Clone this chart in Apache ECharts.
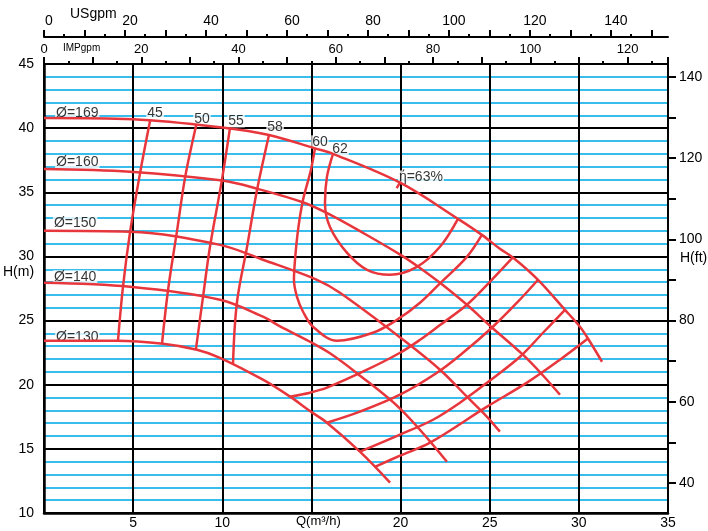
<!DOCTYPE html>
<html><head><meta charset="utf-8">
<script src="https://cdn.jsdelivr.net/npm/echarts@6/dist/echarts.min.js"></script>
<style>html,body{margin:0;padding:0;background:#fff}#c{width:708px;height:531px}</style>
</head><body><div id="c"></div>
<script>
// ---- data (Q in m3/h, H in m) ----
const dia169 = [[0,40.8],[5,40.69],[10,40.05],[12.62,39.47],[15.2,38.42],[16.21,38.0],[20,35.73],[23.22,32.93],[24.56,31.68],[25.57,30.6],[26.3,29.92],[27.71,28.18],[29.22,25.84],[30.06,24.52],[30.51,23.6],[31.3,21.79]];
const dia160 = [[0,36.82],[4.83,36.61],[10,35.91],[12,35.26],[14.55,34.2],[16.07,33.24],[18,31.75],[20,30.12],[21.09,29.1],[22.21,27.94],[23.72,26.23],[25.01,24.6],[26.86,22.34],[27.99,20.72],[28.94,19.22]];
const dia150 = [[0,32.0],[4.83,31.92],[9.87,30.9],[12.28,29.74],[15.31,28.18],[16.6,27.17],[20,23.66],[22.21,21.17],[23.72,19.07],[24.85,17.5],[25.57,16.34]];
const dia140 = [[0,27.94],[4.83,27.63],[9.87,26.62],[12.28,25.3],[13.24,24.55],[14.92,23.35],[16.04,22.45],[17.55,20.9],[20,18.1],[22.6,14.0]];
const dia130 = [[0,23.43],[4.1,23.43],[6.68,23.19],[8.58,22.73],[9.87,22.1],[12.28,20.39],[13.8,19.07],[14.92,17.95],[15.87,17.04],[17.72,14.78],[19.41,12.37]];

const eff45L = [[5.95,40.57],[5.39,36.51],[4.83,31.92],[4.43,27.63],[4.15,23.43]];
const eff50L = [[8.54,40.24],[7.92,36.2],[7.47,32.07],[6.96,27.4],[6.62,23.2]];
const eff55L = [[10.43,40.0],[9.98,35.97],[9.31,30.75],[8.92,26.85],[8.52,22.75]];
const eff58L = [[12.62,39.47],[11.95,35.19],[11.39,30.75],[10.82,26.39],[10.6,21.6]];
const eff60  = [[15.2,38.42],[14.97,36.74],[14.53,34.41],[14.25,32.07],[14.08,29.74],[14.02,28.18],[14.19,26.85],[14.53,25.69],[15.09,24.52],[16.43,23.43],[18.45,24.05],[19.8,25.06],[21.09,26.39],[22.21,27.9],[23.72,29.97],[24.56,31.68]];
const eff62  = [[16.21,38.0],[15.87,36.2],[15.76,34.17],[16.04,32.3],[17.0,30.28],[18.12,28.96],[19.4,28.57],[20.92,29.19],[22.21,30.75],[23.22,32.93]];
const eff58R = [[26.3,29.92],[25.01,28.02],[23.72,26.23],[22.21,24.65],[21.09,23.5],[19.97,22.49],[18.12,21.17],[15.87,19.77],[14.92,19.38],[13.8,19.07]];
const eff55R = [[27.71,28.18],[26.53,26.39],[25.18,24.52],[23.5,22.49],[22.04,20.93],[19.97,19.22],[17.72,17.9],[15.87,17.04]];
const eff50R = [[29.22,25.84],[27.99,24.05],[26.7,22.18],[24.85,20.16],[23.33,18.6],[21.82,17.27],[19.97,16.11],[17.72,14.78]];
const eff45R = [[30.51,23.6],[28.94,21.95],[27.09,20.16],[24.85,18.29],[21.65,15.48],[19.97,14.47],[18.56,13.6]];
const eff63  = [[19.78,35.32],[20.0,35.83]];

const diaLabels = [[0.62,41.18,'Ø=169'],[0.62,37.37,'Ø=160'],[0.5,32.62,'Ø=150'],[0.5,28.41,'Ø=140'],[0.62,23.74,'Ø=130']];
const effLabels = [[6.23,41.18,'45'],[8.86,40.72,'50'],[10.77,40.56,'55'],[12.96,40.09,'58'],[15.48,38.93,'60'],[16.6,38.38,'62'],[21.14,36.2,'ή=63%']];

// ---- tick labels ----
const qLabels = [5,10,20,25,30,35];
const usgpmLabels = [0,20,40,60,80,100,120,140];
const usgpmMajor = [0,10,20,30,40,50,60,70,80,90,100,110,120,130,140,150];
const usgpmMinor = [5,15,25,35,45,55,65,75,85,95,105,115,125,135,145];
const impLabels = [0,20,40,60,80,100,120];
const impMajor = [0,10,20,30,40,50,60,70,80,90,100,110,120,128.32];
const impMinor = [5,15,25,35,45,55,65,75,85,95,105,115,125];
const ftLabels = [40,60,80,100,120,140];
const ftTicks = [40,50,60,70,80,90,100,110,120,130,140];

const FONT = '"Liberation Sans", Arial, sans-serif';
const RED = '#e8363d';
const chart = echarts.init(document.getElementById('c'), null, {renderer:'canvas'});

const curves = [dia169,dia160,dia150,dia140,dia130,eff45L,eff50L,eff55L,eff58L,eff60,eff62,eff58R,eff55R,eff50R,eff45R,eff63];
const lineSeries = curves.map(d => ({
  type:'line', data:d, xAxisIndex:0, yAxisIndex:0, symbol:'none', smooth:0.35, z:3,
  lineStyle:{color:RED, width:2.5}, silent:true, animation:false
}));

const labelSeries = (arr, pos) => ({
  type:'scatter', xAxisIndex:0, yAxisIndex:0, symbolSize:0, z:2, silent:true, animation:false,
  data: arr.map(a => ({value:[a[0],a[1]], name:a[2]})),
  label:{show:true, position:pos, distance:0, formatter:p=>p.name, color:'#000',
    fontFamily:FONT, fontSize:14, backgroundColor:'#fff', padding:[0,1], lineHeight:13}
});

const txt = {color:'#000', fontFamily:FONT};
const line = w => ({onZero:false, lineStyle:{color:'#000', width:w}});
chart.setOption({
  animation:false,
  backgroundColor:'#fff',
  grid:{left:44, right:40, top:64, bottom:18},
  xAxis:[
    {type:'value', position:'bottom', min:0, max:35, interval:5,
     axisLine:line(2.5), axisTick:{show:false},
     axisLabel:{customValues:qLabels, margin:3, fontSize:14, ...txt},
     splitLine:{show:true, lineStyle:{color:'#000', width:2}}},
    {type:'value', position:'top', offset:27, min:0, max:154.1,
     axisLine:line(2),
     axisTick:{customValues:usgpmMajor, length:7, lineStyle:{color:'#000', width:2}},
     axisLabel:{customValues:usgpmLabels, margin:9, fontSize:14, padding:[0,0,0,10], ...txt},
     splitLine:{show:false}},
    {type:'value', position:'top', offset:27, min:0, max:154.1,
     axisLine:{show:false, onZero:false},
     axisTick:{customValues:usgpmMinor, length:3, lineStyle:{color:'#000', width:2}},
     axisLabel:{show:false}, splitLine:{show:false}},
    {type:'value', position:'top', offset:0, min:0, max:128.32,
     axisLine:line(2),
     axisTick:{customValues:impMajor, length:7, lineStyle:{color:'#000', width:2}},
     axisLabel:{customValues:impLabels, margin:8, fontSize:13, ...txt},
     splitLine:{show:false}},
    {type:'value', position:'top', offset:0, min:0, max:128.32,
     axisLine:{show:false, onZero:false},
     axisTick:{customValues:impMinor, length:3, lineStyle:{color:'#000', width:2}},
     axisLabel:{show:false}, splitLine:{show:false}}
  ],
  yAxis:[
    {type:'value', position:'left', min:10, max:45, interval:5,
     axisLine:{show:true, ...line(2.5)}, axisTick:{show:false},
     axisLabel:{margin:10, fontSize:14, ...txt},
     splitLine:{show:true, lineStyle:{color:'#000', width:2}},
     minorTick:{show:false, splitNumber:5},
     minorSplitLine:{show:true, lineStyle:{color:'#38bdec', width:2}}},
    {type:'value', position:'right', min:32.6, max:143.2,
     axisLine:{show:true, ...line(2)},
     axisTick:{show:true, customValues:ftTicks, length:8, lineStyle:{color:'#000', width:2}},
     axisLabel:{customValues:ftLabels, margin:11, fontSize:14, ...txt},
     splitLine:{show:false}}
  ],
  graphic:[
    {type:'text', left:70, top:7, style:{text:'USgpm', font:'14px '+FONT, fill:'#000'}},
    {type:'text', left:63, top:43, style:{text:'IMPgpm', font:'10px '+FONT, fill:'#000'}},
    {type:'text', left:3, top:265, style:{text:'H(m)', font:'14px '+FONT, fill:'#000'}},
    {type:'text', left:680, top:251, style:{text:'H(ft)', font:'14px '+FONT, fill:'#000'}},
    {type:'text', left:296, top:515, style:{text:'Q(m³/h)', font:'13px '+FONT, fill:'#000'}}
  ],
  series:[...lineSeries, labelSeries(diaLabels,'right'), labelSeries(effLabels,'inside')]
});
</script></body></html>
